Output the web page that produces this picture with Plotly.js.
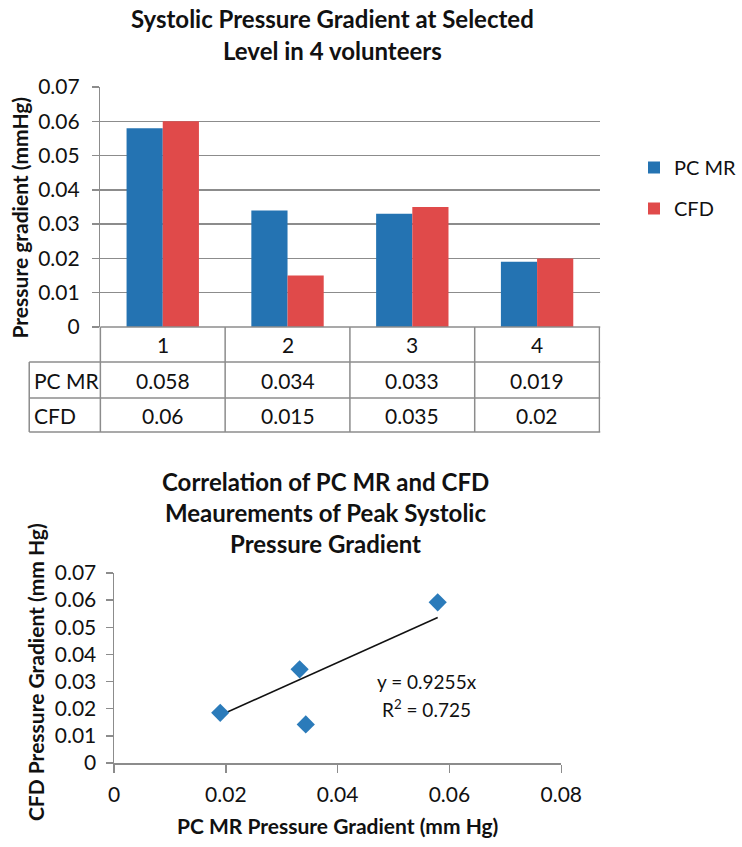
<!DOCTYPE html>
<html>
<head>
<meta charset="utf-8">
<script src="https://cdn.plot.ly/plotly-3.0.1.min.js"></script>
<style>html,body{margin:0;padding:0;background:#fff;}#chart{width:742px;height:847px;}</style>
</head>
<body>
<div id="chart"></div>
<script>
// ---- data ----
var volunteers = ["1", "2", "3", "4"];
var pcmr = [0.058, 0.034, 0.033, 0.019];
var cfd = [0.06, 0.015, 0.035, 0.02];
var pcmrLabels = ["0.058", "0.034", "0.033", "0.019"];
var cfdLabels = ["0.06", "0.015", "0.035", "0.02"];
var seriesNames = ["PC MR", "CFD"];
// scatter points
var scatterX = [0.019, 0.0332, 0.0343, 0.0579];
var scatterY = [0.0185, 0.0345, 0.0142, 0.0592];
var slope = 0.9255;
var r2 = 0.725;

// ---- helpers for layout positions ----
var W = 742, H = 847;
function px(x){ return x / W; }
function py(y){ return 1 - y / H; }

var FONT = "Lato, 'Open Sans', sans-serif";
var TXT = "#111111";
var AX = "#8c8c8c";
var BLUE = "#2473b2";
var RED = "#e04a4a";
var TITLE_SIZE = 24, TICK_SIZE = 21, AXT_SIZE = 21;

var trendX = [Math.min.apply(null, scatterX), Math.max.apply(null, scatterX)];
var trendY = trendX.map(function(v){ return slope * v; });

var traces = [
  {type: "bar", x: volunteers, y: pcmr, name: seriesNames[0], marker: {color: BLUE},
   xaxis: "x", yaxis: "y", legendgroup: "a", hoverinfo: "skip"},
  {type: "bar", x: volunteers, y: cfd, name: seriesNames[1], marker: {color: RED},
   xaxis: "x", yaxis: "y", legendgroup: "b", hoverinfo: "skip"},
  {type: "scatter", mode: "lines", x: trendX, y: trendY, line: {color: "#111", width: 1.5},
   xaxis: "x2", yaxis: "y2", showlegend: false, hoverinfo: "skip"},
  {type: "scatter", mode: "markers", x: scatterX, y: scatterY,
   marker: {symbol: "diamond", size: 14, color: "#2b7bba"},
   xaxis: "x2", yaxis: "y2", showlegend: false, hoverinfo: "skip"}
];

// table geometry (pixels)
var tL = 30, aL = 103, aR = 616;
var rowY = [327, 362, 398, 432];

var shapes = [];
var lineStyle = {color: AX, width: 1.5};
shapes.push({type: "line", xref: "paper", yref: "paper", x0: px(aL), x1: px(aR), y0: py(rowY[0]), y1: py(rowY[0]), line: lineStyle});
for (var r = 1; r < rowY.length; r++) {
  shapes.push({type: "line", xref: "paper", yref: "paper", x0: px(tL), x1: px(aR), y0: py(rowY[r]), y1: py(rowY[r]), line: lineStyle});
}
shapes.push({type: "line", xref: "paper", yref: "paper", x0: px(tL), x1: px(tL), y0: py(rowY[1]), y1: py(rowY[3]), line: lineStyle});
shapes.push({type: "line", xref: "paper", yref: "paper", x0: px(aL), x1: px(aL), y0: py(rowY[0]), y1: py(rowY[3]), line: lineStyle});
for (var c = 0; c < volunteers.length; c++) {
  shapes.push({type: "line", xref: "x", yref: "paper", x0: c + 0.5, x1: c + 0.5, y0: py(rowY[0]), y1: py(rowY[3]), line: lineStyle});
}

var annotations = [];
function ann(text, x, y, opts){
  var a = {text: text, x: x, y: y, xref: "paper", yref: "paper", showarrow: false,
           xanchor: "center", yanchor: "middle", font: {family: FONT, size: TICK_SIZE, color: TXT}};
  for (var k in opts) { a[k] = opts[k]; }
  return a;
}
var tf = {family: FONT, size: TITLE_SIZE, color: TXT};
var af = {family: FONT, size: AXT_SIZE, color: TXT};
// titles
annotations.push(ann("<b>Systolic Pressure Gradient at Selected</b>", px(341), py(19), {font: tf}));
annotations.push(ann("<b>Level in 4 volunteers</b>", px(341), py(51), {font: tf}));
annotations.push(ann("<b>Correlation of PC MR and CFD</b>", px(334), py(481), {font: tf}));
annotations.push(ann("<b>Meaurements of Peak Systolic</b>", px(334), py(512), {font: tf}));
annotations.push(ann("<b>Pressure Gradient</b>", px(334), py(543), {font: tf}));
// axis titles
annotations.push(ann("<b>Pressure gradient (mmHg)</b>", px(20), py(217), {textangle: -90, font: af}));
annotations.push(ann("<b>CFD Pressure Gradient (mm Hg)</b>", px(36), py(672), {textangle: -90, font: af}));
annotations.push(ann("<b>PC MR Pressure Gradient (mm Hg)</b>", px(346), py(825), {font: af}));
// table text
for (var i = 0; i < volunteers.length; i++) {
  annotations.push(ann(volunteers[i], i, py(345), {xref: "x"}));
  annotations.push(ann(pcmrLabels[i], i, py(380), {xref: "x"}));
  annotations.push(ann(cfdLabels[i], i, py(415), {xref: "x"}));
}
annotations.push(ann(seriesNames[0], px(33), py(380), {xanchor: "left"}));
annotations.push(ann(seriesNames[1], px(33), py(415), {xanchor: "left"}));
// trendline equation
var ef = {family: FONT, size: 19, color: TXT};
annotations.push(ann("y = " + slope + "x", px(438), py(681), {font: ef}));
annotations.push(ann("R<sup>2</sup> = " + r2, px(438), py(708), {font: ef}));

var layout = {
  width: W, height: H,
  margin: {l: 0, r: 0, t: 0, b: 0},
  paper_bgcolor: "#fff", plot_bgcolor: "#fff",
  font: {family: FONT, size: TICK_SIZE, color: TXT},
  barmode: "group", bargap: 0.42, bargroupgap: 0,
  showlegend: true,
  legend: {x: px(651), y: py(148), xanchor: "left", yanchor: "top", traceorder: "grouped",
           tracegroupgap: 12, font: {family: FONT, size: 20, color: TXT}, bgcolor: "rgba(0,0,0,0)"},
  xaxis: {domain: [px(aL), px(aR)], anchor: "y", type: "category", showticklabels: false,
          showgrid: false, zeroline: false, showline: false, ticks: "", fixedrange: true},
  yaxis: {domain: [py(327), py(87)], anchor: "x", range: [0, 0.07], dtick: 0.01, tick0: 0,
          showgrid: true, gridcolor: AX, gridwidth: 1.5, zeroline: false,
          showline: true, linecolor: AX, linewidth: 1.5,
          ticks: "outside", ticklen: 7, tickcolor: AX, tickwidth: 1.5, ticklabelstandoff: 8,
          tickfont: {family: FONT, size: TICK_SIZE, color: TXT}},
  xaxis2: {domain: [px(117), px(576)], anchor: "y2", range: [0, 0.08], dtick: 0.02, tick0: 0,
           showgrid: false, zeroline: false, showline: true, linecolor: AX, linewidth: 1.5,
           ticks: "outside", ticklen: 8, tickcolor: AX, tickwidth: 1.5, ticklabelstandoff: 4,
           tickfont: {family: FONT, size: TICK_SIZE, color: TXT}},
  yaxis2: {domain: [py(763), py(573)], anchor: "x2", range: [0, 0.07], dtick: 0.01, tick0: 0,
           showgrid: false, zeroline: false, showline: true, linecolor: AX, linewidth: 1.5,
           ticks: "outside", ticklen: 7, tickcolor: AX, tickwidth: 1.5, ticklabelstandoff: 5,
           tickfont: {family: FONT, size: TICK_SIZE, color: TXT}},
  shapes: shapes,
  annotations: annotations
};

Plotly.newPlot("chart", traces, layout, {displayModeBar: false, staticPlot: true});
</script>
</body>
</html>
